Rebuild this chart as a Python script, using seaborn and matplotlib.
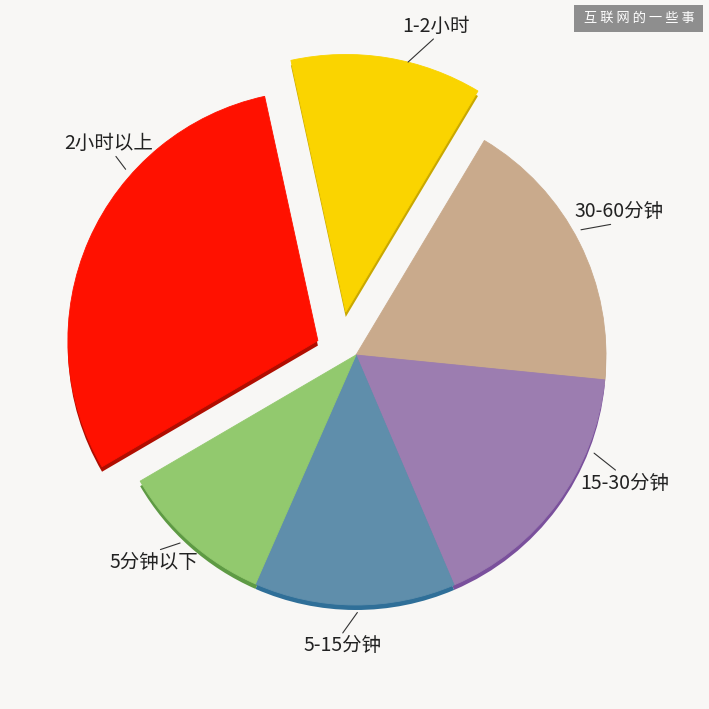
import matplotlib.pyplot as plt
import numpy as np
import seaborn as sns
from matplotlib.patches import Rectangle

# Data (percent of users)
labels = ['1-2小时', '30-60分钟', '15-30分钟', '5-15分钟', '5分钟以下', '2小时以上']
shares = [12, 18, 17, 13, 10, 30]

# Styling
colors = ['#fad400', '#c9aa8c', '#9c7db0', '#5f8eab', '#92c96e', '#ff1100']
shade_colors = ['#c9a800', '#a88a6c', '#7a509c', '#2f6f98', '#5e9a44', '#b00d00']
explode = [0.177, 0, 0, 0, 0, 0.163]
explode_turn = [22.7, 0, 0, 0, 0, 3]         # degrees, direction of the pull-out
wedge_scale = [1.03, 1, 1, 1, 1, 1]
line_shift = [-4.7, 2.4, 13.9, 0.6, -1.4, -18]   # leader start, degrees from wedge middle
text_shift = [-8.3, 1.9, 10.8, -2.4, -2.6, -19.6]
text_r = [1.2, 1.2, 1.19, 1.165, 1.16, 1.15]
bg = '#f8f7f5'

sns.set_theme(style='white')
plt.rcParams['font.family'] = ['Noto Sans CJK SC', 'DejaVu Sans']

fig = plt.figure(figsize=(7.09, 7.09), dpi=100, facecolor=bg)
ax = fig.add_axes([0, 0, 1, 1])
ax.set_facecolor(bg)

# Darker copy shifted down gives the thick bottom edge
shadow, _ = ax.pie(shares, colors=shade_colors, startangle=102.3,
                   counterclock=False, wedgeprops=dict(linewidth=0))
wedges, _ = ax.pie(shares, colors=colors, startangle=102.3,
                   counterclock=False, wedgeprops=dict(linewidth=0.6))

for w, s, e, turn, k in zip(wedges, shadow, explode, explode_turn, wedge_scale):
    a = np.deg2rad((w.theta1 + w.theta2) / 2 + turn)
    cx, cy = e * np.cos(a), e * np.sin(a)
    w.set_center((cx, cy))
    s.set_center((cx, cy - 0.02))
    w.set_radius(k)
    s.set_radius(k)
    w.set_edgecolor(w.get_facecolor())

# Labels with short leader lines
for w, lab, ls, ts, r in zip(wedges, labels, line_shift, text_shift, text_r):
    cx, cy = w.center
    mid = (w.theta1 + w.theta2) / 2
    la = np.deg2rad(mid + ls)
    ta = np.deg2rad(mid + ts)
    tx, ty = cx + r * np.cos(ta), cy + r * np.sin(ta)
    ex = tx - 0.04 * np.cos(ta)
    ey = ty - 0.052 * np.sign(np.sin(ta))
    ax.plot([cx + 1.03 * np.cos(la), ex], [cy + 1.03 * np.sin(la), ey],
            color='#333333', lw=0.8)
    ax.text(tx, ty, lab, ha='center', va='center', fontsize=14, color='#222222')

ax.set_xlim(-1.424, 1.412)
ax.set_ylim(-1.416, 1.42)
ax.set_aspect('equal')
ax.axis('off')

# Watermark in the top right corner
fig.patches.append(Rectangle((574 / 709, 1 - 32 / 709), 129 / 709, 27 / 709,
                             transform=fig.transFigure, facecolor='#8e8e8e',
                             edgecolor='none'))
fig.text(639 / 709, 1 - 18.5 / 709, '互 联 网 的 一 些 事', ha='center', va='center',
         fontsize=9.5, color='white')

fig.savefig('out.png', dpi=100, facecolor=bg)
